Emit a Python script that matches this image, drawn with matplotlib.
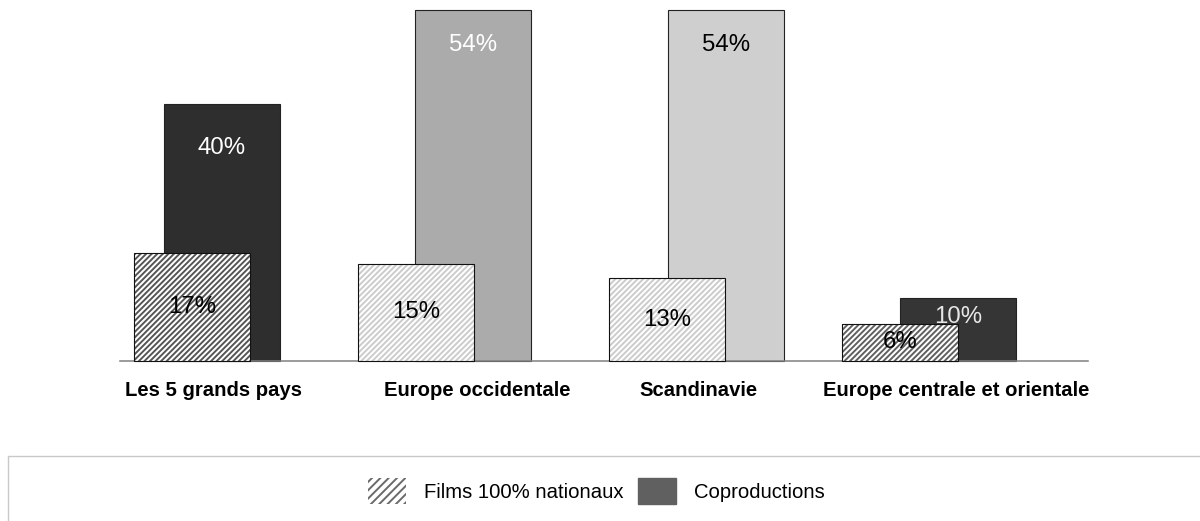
import matplotlib
matplotlib.use("Agg")
import matplotlib.pyplot as plt
from matplotlib.patches import Patch, Rectangle
import numpy as np

# ---- data ----
categories = ["Les 5 grands pays", "Europe occidentale", "Scandinavie",
              "Europe centrale et orientale"]
nationaux = [16.6, 15.0, 12.7, 5.7]
coproductions = [39.6, 54.0, 54.0, 9.75]
series_names = ["Films 100% nationaux", "Coproductions"]

# ---- layout / style ----
plt.rcParams['font.family'] = ['Liberation Sans', 'DejaVu Sans']
plt.rcParams['hatch.linewidth'] = 1.4

bar_w = 0.479
nat_off = [-0.442, -0.517, -0.479, -0.517]
cop_off = [-0.318, -0.281, -0.236, -0.277]
lab_off = [-0.114, -0.025, -0.110, -0.043]
cop_label_y = [32.8, 48.6, 48.6, 6.8]
cop_colors = ['#2e2e2e', '#ababab', '#cfcfcf', '#353535']
cop_text_colors = ['white', 'white', 'black', '#e6e6e6']
hatch_colors = ['#555555', '#cccccc', '#cccccc', '#606060']

fig = plt.figure(figsize=(12, 5.21), dpi=100)
ax = fig.add_axes([0.1, 160 / 521, 968 / 1200, 351 / 521])
x = np.arange(len(categories))

for i in range(len(categories)):
    # coproductions (behind)
    ax.bar(x[i] + cop_off[i], coproductions[i], width=bar_w, align='edge',
           color=cop_colors[i], edgecolor='#222222', linewidth=0.8,
           zorder=2, clip_on=False)
    ax.text(x[i] + cop_off[i] + bar_w / 2, cop_label_y[i],
            f"{round(coproductions[i])}%", ha='center', va='center',
            fontsize=17.3, color=cop_text_colors[i], zorder=5)
    # nationaux (front, hatched)
    ax.bar(x[i] + nat_off[i], nationaux[i], width=bar_w, align='edge',
           color='white', edgecolor=hatch_colors[i], hatch='//////',
           linewidth=0, zorder=3, clip_on=False)
    ax.bar(x[i] + nat_off[i], nationaux[i], width=bar_w, align='edge',
           fill=False, edgecolor='#111111', linewidth=0.8,
           zorder=4, clip_on=False)
    ax.text(x[i] + nat_off[i] + bar_w / 2, nationaux[i] / 2,
            f"{round(nationaux[i])}%", ha='center', va='center',
            fontsize=17.3, color='black', zorder=5)
    # category label
    ax.text(x[i] + lab_off[i], -4.55, categories[i], ha='center', va='center',
            fontsize=14.6, fontweight='bold', color='black', clip_on=False)

ax.set_xlim(-0.5, len(categories) - 0.5)
ax.set_ylim(0, 54)
for s in ['top', 'right', 'left']:
    ax.spines[s].set_visible(False)
ax.spines['bottom'].set_color('#808080')
ax.spines['bottom'].set_linewidth(1.1)
ax.set_xticks([])
ax.set_yticks([])

# legend box
fig.patches.append(Rectangle((8 / 1200, -0.2), 1.2, 0.2 + (521 - 456) / 521,
                             transform=fig.transFigure, fill=False,
                             edgecolor='#c8c8c8', linewidth=1.0))
handles = [Patch(facecolor='white', edgecolor='#6a6a6a', hatch='////', linewidth=0),
           Patch(facecolor='#606060', edgecolor='#606060')]
fig.legend(handles, series_names, loc='center', bbox_to_anchor=(0.497, 30 / 521),
           ncol=2, frameon=False, fontsize=14.6, handlelength=1.87,
           handleheight=1.67, handletextpad=0.9, columnspacing=0.74)

fig.savefig("out.png", dpi=100, facecolor='white')
